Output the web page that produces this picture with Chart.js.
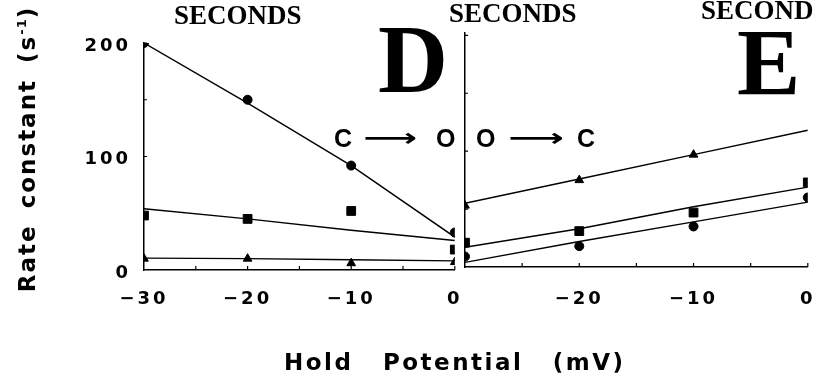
<!DOCTYPE html>
<html>
<head>
<meta charset="utf-8">
<title>Rate constant vs hold potential</title>
<script src="https://cdn.jsdelivr.net/npm/chart.js@4.4.1/dist/chart.umd.min.js"></script>
<style>
  body{margin:0;background:#fff;}
  #fig{position:relative;width:815px;height:376px;overflow:hidden;background:#fff;}
  #fig canvas{position:absolute;top:0;}
  .lbl{position:absolute;white-space:nowrap;line-height:1;color:#000;}
  .sec{font:bold 27px "Liberation Serif","Times New Roman",serif;}
  .big{font:bold 97px "Liberation Serif","Times New Roman",serif;}
  .st{font:bold 25px "Liberation Sans",Arial,sans-serif;}
  .arrow{font:bold 25px "DejaVu Sans",sans-serif;transform-origin:0 50%;}
  .ax{font:bold 23px "DejaVu Sans",sans-serif;letter-spacing:2.5px;word-spacing:19px;}
  .ay{font:bold 23px "DejaVu Sans",sans-serif;letter-spacing:2px;word-spacing:6px;}
  .ay sup{font-size:13px;line-height:0;vertical-align:9px;letter-spacing:1px;}
</style>
</head>
<body>
<div id="fig">
  <canvas id="panelD" width="462" height="376" style="left:0"></canvas>
  <canvas id="panelE" width="375" height="376" style="left:440px"></canvas>

  <div class="lbl sec" style="left:174px;top:0px">SECONDS</div>
  <div class="lbl sec" style="left:449px;top:-2px">SECONDS</div>
  <div class="lbl sec" style="left:701px;top:-5px">SECONDS</div>
  <div class="lbl big" style="left:378px;top:4px">D</div>
  <div class="lbl big" style="left:737px;top:8px;font-size:95px">E</div>

  <div class="lbl st" style="left:334px;top:124px">C</div>
  <div class="lbl arrow" style="left:363px;top:123px;transform:scaleX(1.5)">⟶</div>
  <div class="lbl st" style="left:436px;top:124px">O</div>
  <div class="lbl st" style="left:476px;top:124px">O</div>
  <div class="lbl arrow" style="left:508px;top:123px;transform:scaleX(1.55)">⟶</div>
  <div class="lbl st" style="left:577px;top:124px">C</div>

  <div class="lbl ay" style="left:-123px;top:136px;width:300px;text-align:center;transform:rotate(-90deg)">Rate constant (s<sup>-1</sup>)</div>
  <div class="lbl ax" style="left:284px;top:349px">Hold Potential (mV)</div>
</div>
<script>
// hold potentials (mV) shared by both panels
const holdMv = [-30, -20, -10, 0];
const dTickLabels = ['\u221230', '\u221220', '\u221210', '0'];
const eTickLabels = ['', '\u221220', '\u221210', '0'];
const yTickLabels = ['0', '100', '200'];

// panel D : C -> O   (rate constants, s^-1)
const dCircle = [200, 150, 92, 33];
const dCircleFit = [200, 147, 92, 29];
const dSquare = [48, 45, 52, 18];
const dSquareFit = [54, 45, 35, 26];
const dTriangle = [10, 10, 6, 7];
const dTriangleFit = [10.5, 10, 9, 8];

// panel E : O -> C
const eTriangle = [53, 75, 97, null];
const eTriangleFit = [55, 76, 97, 118];
const eSquare = [21, 31, 47, 73];
const eSquareFit = [17, 33, 52, 69];
const eCircle = [9, 18, 35, 60];
const eCircleFit = [4, 22, 39, 56];

const tickFont = {family: 'DejaVu Sans', size: 18, weight: 'bold'};

function pts(ys){ return holdMv.map((x, i) => ({x: x, y: ys[i]})); }

function marks(ys, style, r){
  return {data: pts(ys), showLine: false, pointStyle: style, pointRadius: r,
    pointBackgroundColor: '#000', pointBorderColor: '#000', pointBorderWidth: 1};
}
function fit(ys){
  return {data: pts(ys), showLine: true, pointRadius: 0, borderColor: '#000',
    borderWidth: 1.4, tension: 0, fill: false};
}

// letter spaced tick text, like the typeset figure
const spacing = {
  id: 'spacing',
  beforeDraw(chart){ chart.ctx.letterSpacing = '3px'; }
};

// small inward ticks every 5 mV and every 50 s^-1
const innerTicks = {
  id: 'innerTicks',
  afterDatasetsDraw(chart){
    const {ctx, scales: {x, y}} = chart;
    ctx.save();
    ctx.strokeStyle = '#000'; ctx.lineWidth = 1.2;
    ctx.beginPath();
    for(let v = x.min + 5; v <= x.max; v += 5){
      const px = x.getPixelForValue(v);
      ctx.moveTo(px, y.bottom); ctx.lineTo(px, y.bottom - 4);
    }
    for(let v = 50; v <= 200; v += 50){
      const py = y.getPixelForValue(v);
      ctx.moveTo(x.left, py); ctx.lineTo(x.left + 3, py);
    }
    ctx.stroke();
    ctx.restore();
  }
};

function xScale(labels, pad, h){
  return {
    type: 'linear', min: -30, max: 0,
    ticks: {stepSize: 10, color: '#000', font: tickFont, padding: pad, maxRotation: 0, autoSkip: false,
      callback: v => { const i = holdMv.indexOf(v); return i < 0 ? '' : labels[i]; }},
    grid: {drawOnChartArea: false, drawTicks: false},
    border: {color: '#000', width: 1.5},
    afterFit: s => { s.height = h; s.paddingLeft = 0; s.paddingRight = 0; }
  };
}
function yScale(max, showLabels, w){
  return {
    type: 'linear', min: 0, max: max,
    ticks: {display: showLabels, stepSize: 100, color: '#000', font: tickFont, padding: 13, labelOffset: 3,
      callback: v => { const i = [0, 100, 200].indexOf(v); return i < 0 ? '' : yTickLabels[i]; }},
    grid: {drawOnChartArea: false, drawTicks: false},
    border: {color: '#000', width: 1.5},
    afterFit: s => { s.width = w; s.paddingTop = 0; s.paddingBottom = 0; }
  };
}

function baseOptions(pad, xs, ys){
  return {
    responsive: false, maintainAspectRatio: false, animation: false,
    layout: {padding: pad},
    plugins: {legend: {display: false}, tooltip: {enabled: false}},
    scales: {x: xs, y: ys}
  };
}

new Chart(document.getElementById('panelD'), {
  type: 'scatter',
  data: {datasets: [
    fit(dCircleFit), fit(dSquareFit), fit(dTriangleFit),
    marks(dCircle, 'circle', 4.5), marks(dSquare, 'rect', 6.2), marks(dTriangle, 'triangle', 5)
  ]},
  options: baseOptions({top: 43, right: 5, left: 0, bottom: 0}, xScale(dTickLabels, 19, 106), yScale(200, true, 144)),
  plugins: [spacing, innerTicks]
});

new Chart(document.getElementById('panelE'), {
  type: 'scatter',
  data: {datasets: [
    fit(eTriangleFit), fit(eSquareFit), fit(eCircleFit),
    marks(eTriangle, 'triangle', 5), marks(eSquare, 'rect', 6.2), marks(eCircle, 'circle', 4.5)
  ]},
  options: baseOptions({top: 33, right: 3, left: 0, bottom: 0}, xScale(eTickLabels, 22, 109), yScale(202, false, 25)),
  plugins: [spacing, innerTicks]
});
</script>
</body>
</html>
